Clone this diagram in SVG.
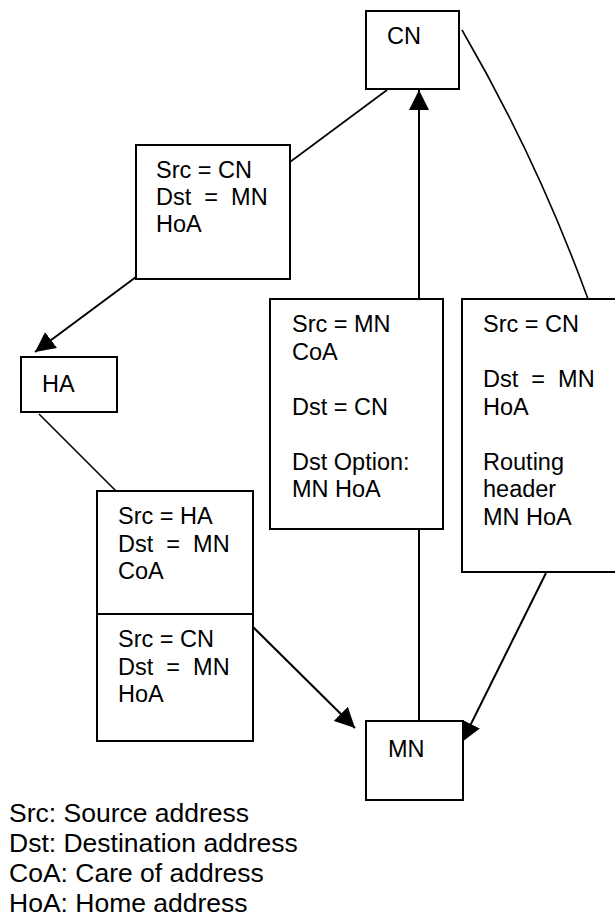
<svg xmlns="http://www.w3.org/2000/svg" width="615" height="918" viewBox="0 0 615 918">
<style>
  .box { fill: #ffffff; stroke: #000000; stroke-width: 2; }
  .t { font-family: "Liberation Sans", Arial, sans-serif; font-size: 23.5px; fill: #000000; white-space: pre; }
  .lg { font-family: "Liberation Sans", Arial, sans-serif; font-size: 26.5px; fill: #000000; }
  .ln { fill: none; stroke: #000000; stroke-width: 1.6; }
  .ar { fill: none; stroke: #000000; stroke-width: 2; marker-end: url(#ah); }
</style>
<defs>
  <marker id="ah" markerUnits="userSpaceOnUse" markerWidth="20" markerHeight="20" refX="20" refY="10" orient="auto">
    <path d="M0,0 L20,10 L0,20 Z" fill="#000000"/>
  </marker>
</defs>
<rect x="0" y="0" width="615" height="918" fill="#ffffff"/>
<g id="connectors">
  <line class="ln" x1="387" y1="90" x2="290" y2="162"/>
  <line class="ar" x1="136" y1="277" x2="35" y2="352"/>
  <line class="ln" x1="39" y1="414" x2="116" y2="491"/>
  <line class="ar" x1="253" y1="627" x2="355" y2="728"/>
  <line class="ar" x1="419" y1="721" x2="419" y2="90"/>
  <path class="ln" d="M462,30 Q537,159 588,299"/>
  <line class="ar" x1="546" y1="573" x2="462" y2="742"/>
</g>
<g id="node-cn">
  <rect class="box" x="366" y="11" width="93" height="78"/>
  <text class="t" x="387" y="44">CN</text>
</g>
<g id="node-packet-cn-ha">
  <rect class="box" x="136" y="145" width="154" height="134"/>
  <text class="t" x="156" y="178">Src = CN</text>
  <text class="t" x="156" y="205" xml:space="preserve">Dst  =  MN</text>
  <text class="t" x="156" y="232">HoA</text>
</g>
<g id="node-ha">
  <rect class="box" x="21" y="357" width="96" height="55"/>
  <text class="t" x="42" y="392">HA</text>
</g>
<g id="node-packet-mn-cn">
  <rect class="box" x="270" y="299" width="173" height="230"/>
  <text class="t" x="292" y="332">Src = MN</text>
  <text class="t" x="292" y="359.5">CoA</text>
  <text class="t" x="292" y="414.5">Dst = CN</text>
  <text class="t" x="292" y="469.5">Dst Option:</text>
  <text class="t" x="292" y="497">MN HoA</text>
</g>
<g id="node-packet-cn-mn">
  <rect class="box" x="462" y="299" width="160" height="273"/>
  <text class="t" x="483" y="332">Src = CN</text>
  <text class="t" x="483" y="387" xml:space="preserve">Dst  =  MN</text>
  <text class="t" x="483" y="414.5">HoA</text>
  <text class="t" x="483" y="469.5">Routing</text>
  <text class="t" x="483" y="497">header</text>
  <text class="t" x="483" y="524.5">MN HoA</text>
</g>
<g id="node-packet-ha-mn">
  <rect class="box" x="97" y="491" width="156" height="250"/>
  <line x1="97" y1="614" x2="253" y2="614" stroke="#000000" stroke-width="2"/>
  <text class="t" x="118" y="523.5">Src = HA</text>
  <text class="t" x="118" y="551.5" xml:space="preserve">Dst  =  MN</text>
  <text class="t" x="118" y="579">CoA</text>
  <text class="t" x="118" y="646.5">Src = CN</text>
  <text class="t" x="118" y="674.5" xml:space="preserve">Dst  =  MN</text>
  <text class="t" x="118" y="702">HoA</text>
</g>
<g id="node-mn">
  <rect class="box" x="366" y="721" width="97" height="79"/>
  <text class="t" x="388" y="757">MN</text>
</g>
<g id="legend">
  <text class="lg" x="9" y="822">Src: Source address</text>
  <text class="lg" x="9" y="852">Dst: Destination address</text>
  <text class="lg" x="9" y="882">CoA: Care of address</text>
  <text class="lg" x="9" y="911.5">HoA: Home address</text>
</g>
</svg>
